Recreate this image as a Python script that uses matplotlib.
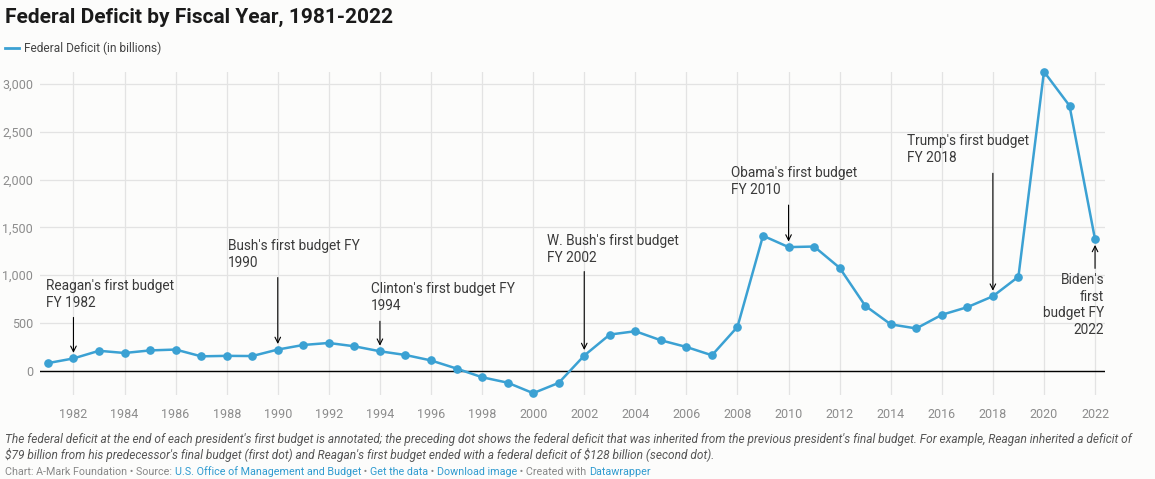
import matplotlib.pyplot as plt

plt.rcParams['font.family'] = ['Roboto', 'DejaVu Sans']

years = list(range(1981, 2023))
deficit = [79, 128, 208, 185, 212, 221, 150, 155, 153, 221,
           269, 290, 255, 203, 164, 107, 22, -69, -126, -236,
           -128, 158, 378, 413, 318, 248, 161, 459, 1413, 1294,
           1300, 1077, 680, 485, 442, 585, 665, 779, 984, 3132,
           2775, 1375]

# (year, label text, text x px, text top y px, arrow length px, ha)
notes = [
    (1982, "Reagan's first budget\nFY 1982", 46, 279, 41, 'left'),
    (1990, "Bush's first budget FY\n1990", 228, 239, 72, 'left'),
    (1994, "Clinton's first budget FY\n1994", 371, 282, 30, 'left'),
    (2002, "W. Bush's first budget\nFY 2002", 547, 234, 84, 'left'),
    (2010, "Obama's first budget\nFY 2010", 731, 166, 42, 'left'),
    (2018, "Trump's first budget\nFY 2018", 907, 134, 123, 'left'),
    (2022, "Biden's\nfirst\nbudget FY\n2022", 1104, 273, -29, 'right'),
]

W, H = 1155, 479
bg = '#fcfcfb'
blue = '#3ba1d3'
link = '#2f9bd0'

fig = plt.figure(figsize=(W / 100, H / 100), dpi=100, facecolor=bg)
ax = fig.add_axes([40 / W, 1 - 395 / H, 1065 / W, 323 / H], facecolor=bg)

ax.plot(years, deficit, color=blue, lw=1.8, marker='o', ms=5.2, zorder=3,
        clip_on=False)

ax.set_xlim(1980.69, 2022.39)
ax.set_ylim(-255, 3128)
ax.set_xticks(range(1982, 2023, 2))
ax.set_yticks([0, 500, 1000, 1500, 2000, 2500, 3000])
ax.set_yticklabels(['0', '500', '1,000', '1,500', '2,000', '2,500', '3,000'])
ax.grid(True, color='#e3e3e3', lw=0.9)
ax.set_axisbelow(True)
ax.axhline(0, color='black', lw=1.0, zorder=2)
for s in ax.spines.values():
    s.set_visible(False)
ax.tick_params(axis='both', length=0, labelsize=9, colors='#8c8c8c')
ax.tick_params(axis='x', pad=9)
ax.tick_params(axis='y', pad=5)

for yr, txt, tx, ty, alen, ha in notes:
    val = deficit[years.index(yr)]
    ax.annotate('', xy=(yr, val), xytext=(0, alen), textcoords='offset pixels',
                arrowprops=dict(arrowstyle='->', color='black', lw=0.8,
                                shrinkA=0, shrinkB=4), zorder=4)
    fig.text(tx / W, 1 - ty / H, txt, ha=ha, va='top', fontsize=9.8,
             color='#3a3a3a', linespacing=1.25)

fig.text(5 / W, 1 - 17 / H, 'Federal Deficit by Fiscal Year, 1981-2022',
         fontsize=15, fontweight='bold', color='#1a1a1a', va='center')
fig.add_artist(plt.Line2D([5 / W, 19 / W], [1 - 48 / H, 1 - 48 / H],
                          color=blue, lw=2))
fig.text(24 / W, 1 - 48 / H, 'Federal Deficit (in billions)', fontsize=8.6,
         color='#444444', va='center')

fig.text(5 / W, 1 - 440 / H,
         "The federal deficit at the end of each president's first budget is annotated; "
         "the preceding dot shows the federal deficit that was inherited from the previous "
         "president's final budget. For example, Reagan inherited a deficit of",
         fontsize=8.6, style='italic', color='#555555', va='center')
fig.text(5 / W, 1 - 455 / H,
         "\\$79 billion from his predecessor's final budget (first dot) and Reagan's first "
         "budget ended with a federal deficit of \\$128 billion (second dot).",
         fontsize=8.6, style='italic', color='#555555', va='center')

parts = [('Chart: A-Mark Foundation • Source: ', '#888888'),
         ('U.S. Office of Management and Budget', link),
         (' • ', '#888888'), ('Get the data', link),
         (' • ', '#888888'), ('Download image', link),
         (' • Created with ', '#888888'), ('Datawrapper', link)]
fig.canvas.draw()
r = fig.canvas.get_renderer()
x = 5
for s, c in parts:
    t = fig.text(x / W, 1 - 472 / H, s, fontsize=7.72, color=c, va='center')
    x += t.get_window_extent(renderer=r).width

fig.savefig('out.png', dpi=100, facecolor=bg)
